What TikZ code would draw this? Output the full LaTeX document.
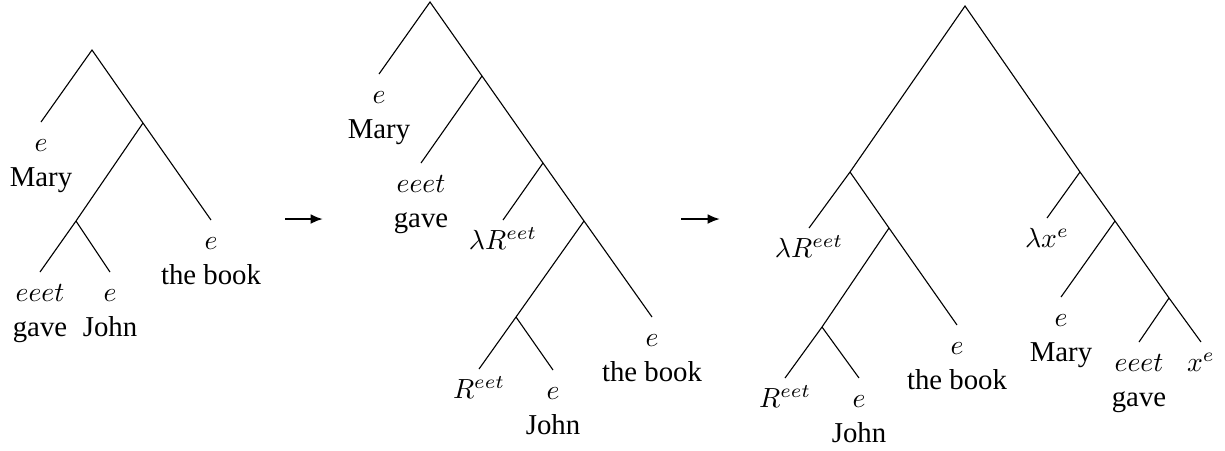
\documentclass[tikz,border=0pt]{standalone}
\usepackage{fontspec}
\setmainfont{Liberation Serif}
\usetikzlibrary{arrows.meta}
\tikzset{
  leaf/.style={anchor=north, align=center, inner sep=1.5pt, font=\fontsize{10.4pt}{12.8pt}\selectfont},
  derive/.style={line width=0.8pt, -{Latex[length=4.5pt,width=3.6pt]}}
}
\newcommand{\lbl}[2]{\strut$#1$\\\strut #2}

\begin{document}
\begin{tikzpicture}[x=0.0127cm, y=-0.0127cm]
\useasboundingbox (0,0) rectangle (1225,450);
% first tree
\coordinate (a0) at (92,50);
\coordinate (a1) at (143,123);
\coordinate (a2) at (76,221);
\node[leaf] (a-mary) at (41,122) {\lbl{e}{Mary}};
\node[leaf] (a-book) at (211,220) {\lbl{e}{the book}};
\node[leaf] (a-gave) at (40,272) {\lbl{eeet}{gave}};
\node[leaf] (a-john) at (110,272) {\lbl{e}{John}};
\draw (a-mary.north) -- (a0) -- (a1) -- (a-book.north);
\draw (a1) -- (a2) -- (a-gave.north);
\draw (a2) -- (a-john.north);

\coordinate (m1) at (285,219);
\coordinate (m1e) at (323,219);
\draw[derive] (m1) -- (m1e);

% second tree
\coordinate (b0) at (430,2);
\coordinate (b1) at (482,76);
\coordinate (b2) at (543,163);
\coordinate (b3) at (584,221);
\coordinate (b4) at (516,317);
\node[leaf] (b-mary) at (379,74) {\lbl{e}{Mary}};
\node[leaf] (b-gave) at (421,163) {\lbl{eeet}{gave}};
\node[leaf] (b-lam) at (503,220) {\strut$\lambda R^{eet}$};
\node[leaf] (b-book) at (652,317) {\lbl{e}{the book}};
\node[leaf] (b-r) at (479,369) {\strut$R^{eet}$};
\node[leaf] (b-john) at (553,370) {\lbl{e}{John}};
\draw (b-mary.north) -- (b0) -- (b1) -- (b2) -- (b3) -- (b-book.north);
\draw (b1) -- (b-gave.north);
\draw (b2) -- (b-lam.north);
\draw (b3) -- (b4) -- (b-r.north);
\draw (b4) -- (b-john.north);

\coordinate (m2) at (681,219);
\coordinate (m2e) at (720,219);
\draw[derive] (m2) -- (m2e);

% third tree
\coordinate (c0) at (965,6);
\coordinate (c1) at (850,172);
\coordinate (c2) at (889,228);
\coordinate (c3) at (822,327);
\coordinate (c4) at (1080,172);
\coordinate (c5) at (1115,221);
\coordinate (c6) at (1169,298);
\node[leaf] (c-lam) at (809,228) {\strut$\lambda R^{eet}$};
\node[leaf] (c-book) at (957,325) {\lbl{e}{the book}};
\node[leaf] (c-r) at (785,378) {\strut$R^{eet}$};
\node[leaf] (c-john) at (859,378) {\lbl{e}{John}};
\node[leaf] (c-lx) at (1047,218) {\strut$\lambda x^{e}$};
\node[leaf] (c-mary) at (1061,297) {\lbl{e}{Mary}};
\node[leaf] (c-gave) at (1139,342) {\lbl{eeet}{gave}};
\node[leaf] (c-x) at (1201,342) {\strut$x^{e}$};
\draw (c-lam.north) -- (c1) -- (c0) -- (c4) -- (c5) -- (c6) -- (c-x.north);
\draw (c1) -- (c2) -- (c-book.north);
\draw (c2) -- (c3) -- (c-r.north);
\draw (c3) -- (c-john.north);
\draw (c4) -- (c-lx.north);
\draw (c5) -- (c-mary.north);
\draw (c6) -- (c-gave.north);
\end{tikzpicture}
\end{document}
